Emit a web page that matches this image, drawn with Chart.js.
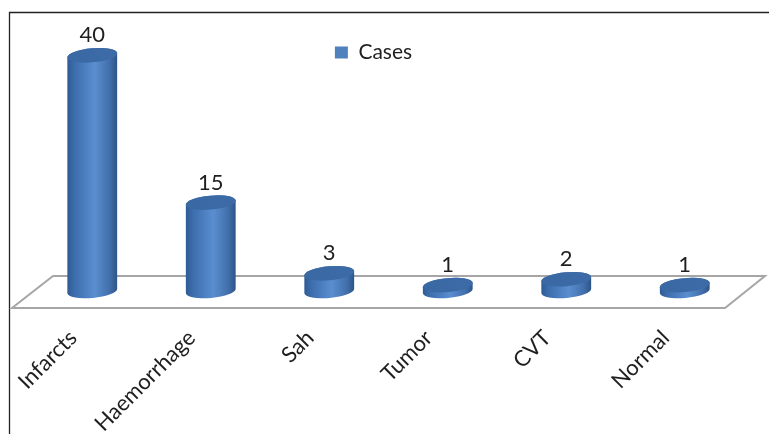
<!DOCTYPE html>
<html>
<head>
<meta charset="utf-8">
<script src="https://cdn.jsdelivr.net/npm/chart.js@4"></script>
<style>
  html, body { margin: 0; padding: 0; background: #fff; }
  canvas { display: block; }
</style>
</head>
<body>
<canvas id="casesChart" width="769" height="434"></canvas>
<script>
const categories = ["Infarcts", "Haemorrhage", "Sah", "Tumor", "CVT", "Normal"];
const cases = [40, 15, 3, 1, 2, 1];
const seriesName = "Cases";

const textColor = "#1f1f1f";
const legendBlue = "#4f81bd";

// frame + 3d floor under the bars
const floorPlugin = {
    id: "floor",
    afterLayout(chart) {
        // legend sits a little left of the plot centre
        chart.legend.left -= 30;
    },
    beforeDraw(chart) {
        let ctx = chart.ctx;
        let area = chart.chartArea;
        let base = chart.scales.y.getPixelForValue(0);
        ctx.save();
        ctx.strokeStyle = "#222";
        ctx.lineWidth = 1.3;
        ctx.beginPath();
        ctx.moveTo(9.5, 434);
        ctx.lineTo(9.5, 12.5);
        ctx.lineTo(769, 12.5);
        ctx.stroke();

        ctx.strokeStyle = "#a6a6a6";
        ctx.lineWidth = 2;
        ctx.beginPath();
        ctx.moveTo(area.left - 21, base + 17);
        ctx.lineTo(area.left + 20, base - 15);
        ctx.lineTo(area.right + 21, base - 15);
        ctx.lineTo(area.right - 19, base + 17);
        ctx.closePath();
        ctx.stroke();
        ctx.restore();
    }
};

// draw each bar as a cylinder, using the positions chart.js computed
const cylinderPlugin = {
    id: "cylinders",
    beforeDatasetDraw() {
        return false;
    },
    afterDatasetsDraw(chart) {
        let ctx = chart.ctx;
        let meta = chart.getDatasetMeta(0);
        let ry = 7;
        let rot = -0.09;
        ctx.save();
        meta.data.forEach(function (bar, i) {
            let rx = bar.width / 2;
            let cx = bar.x;
            let top = bar.y;
            let base = bar.base;

            let grad = ctx.createLinearGradient(cx - rx, 0, cx + rx, 0);
            grad.addColorStop(0, "#2f5b93");
            grad.addColorStop(0.15, "#3d6eae");
            grad.addColorStop(0.55, "#5a8ed0");
            grad.addColorStop(0.85, "#426fab");
            grad.addColorStop(1, "#2c5487");

            ctx.beginPath();
            ctx.ellipse(cx, base, rx, ry, rot, 0, Math.PI);
            ctx.ellipse(cx, top, rx, ry, rot, Math.PI, Math.PI * 2);
            ctx.closePath();
            ctx.fillStyle = grad;
            ctx.fill();

            let topGrad = ctx.createLinearGradient(cx - rx, 0, cx + rx, 0);
            topGrad.addColorStop(0, "#3a68a3");
            topGrad.addColorStop(1, "#3d6ba7");
            ctx.beginPath();
            ctx.ellipse(cx, top, rx, ry, rot, 0, Math.PI * 2);
            ctx.fillStyle = topGrad;
            ctx.fill();

            // value label
            ctx.fillStyle = textColor;
            ctx.font = "22px Lato";
            ctx.textAlign = "center";
            ctx.textBaseline = "alphabetic";
            ctx.fillText(String(cases[i]), cx, top - ry - 6);
        });
        ctx.restore();
    }
};

new Chart(document.getElementById("casesChart"), {
    type: "bar",
    data: {
        labels: categories,
        datasets: [{
            label: seriesName,
            data: cases,
            backgroundColor: legendBlue,
            borderWidth: 0,
            barThickness: 50
        }]
    },
    options: {
        responsive: false,
        animation: false,
        layout: {
            padding: { left: 33, right: 25, top: 32, bottom: 0 }
        },
        plugins: {
            legend: {
                position: "top",
                labels: {
                    boxWidth: 13,
                    boxHeight: 12,
                    padding: 10,
                    color: textColor,
                    font: { family: "Lato", size: 21 }
                }
            },
            tooltip: { enabled: false }
        },
        scales: {
            x: {
                grid: { display: false, drawTicks: false },
                border: { display: false },
                ticks: {
                    autoSkip: false,
                    minRotation: 45,
                    maxRotation: 45,
                    padding: 34,
                    labelOffset: -19,
                    color: textColor,
                    font: { family: "Lato", size: 22 }
                },
                afterFit: function (scale) {
                    scale.height = 143;
                }
            },
            y: {
                display: false,
                min: 0,
                max: 37
            }
        }
    },
    plugins: [floorPlugin, cylinderPlugin]
});
</script>
</body>
</html>
